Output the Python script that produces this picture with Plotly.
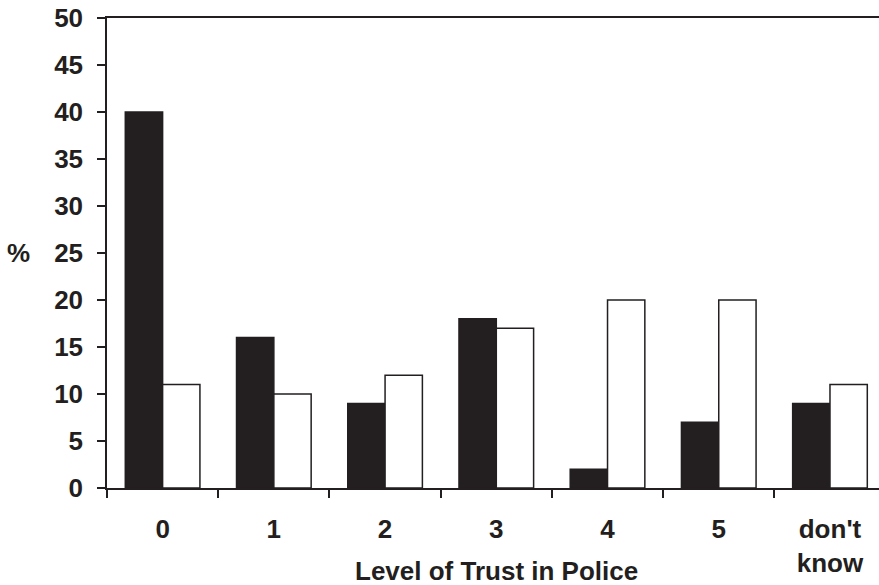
import plotly.graph_objects as go

categories = ["0", "1", "2", "3", "4", "5", "don't<br>know"]
series_black = [40, 16, 9, 18, 2, 7, 9]
series_white = [11, 10, 12, 17, 20, 20, 11]
y_ticks = [0, 5, 10, 15, 20, 25, 30, 35, 40, 45, 50]

INK = "#231f20"
FONT = "Liberation Sans, Arial, sans-serif"
FS = 26

W, H = 879, 585
L, T = 106.5, 18
B = H - T - 470
plot_w = W - L
plot_h = H - T - B
cat_w = 111.3
x_right = -0.5 + plot_w / cat_w

fig = go.Figure()
fig.add_trace(go.Bar(x=categories, y=series_black, name="black",
                     marker=dict(color=INK, line=dict(color=INK, width=1.5))))
fig.add_trace(go.Bar(x=categories, y=series_white, name="white",
                     marker=dict(color="white", line=dict(color=INK, width=1.5))))

fig.update_layout(
    width=W, height=H,
    margin=dict(l=L, r=0, t=T, b=B, pad=0, autoexpand=False),
    paper_bgcolor="white", plot_bgcolor="white",
    barmode="group", bargap=0.329, bargroupgap=0,
    showlegend=False,
    font=dict(family=FONT, size=FS, color=INK),
)
fig.update_xaxes(
    type="category", range=[-0.5, x_right], automargin=False,
    showline=True, linecolor=INK, linewidth=1.5, mirror=True,
    ticks="outside", ticklen=8, tickwidth=1.5, tickcolor=INK,
    tickson="boundaries", showgrid=False, zeroline=False,
    tickfont=dict(family=FONT, size=FS, color=INK, weight="bold"),
    ticklabelstandoff=17,
)
fig.update_yaxes(
    range=[0, 50], tickvals=y_ticks, automargin=False,
    showline=True, linecolor=INK, linewidth=1.5,
    ticks="outside", ticklen=8, tickwidth=1.5, tickcolor=INK,
    showgrid=False, zeroline=False, ticklabeloverflow="allow",
    tickfont=dict(family=FONT, size=FS, color=INK, weight="bold"),
    ticklabelstandoff=9,
)
fig.add_annotation(text="%", xref="paper", yref="paper",
                   x=(18 - L) / plot_w, y=0.5, xanchor="center", yanchor="middle",
                   showarrow=False, font=dict(family=FONT, size=FS, color=INK, weight="bold"))
fig.add_annotation(text="Level of Trust in Police", xref="paper", yref="paper",
                   x=(496 - L) / plot_w, y=(488 - 571) / plot_h,
                   xanchor="center", yanchor="middle",
                   showarrow=False, font=dict(family=FONT, size=FS, color=INK, weight="bold"))

fig.write_html(
    "out.html",
    config={"displayModeBar": False},
    post_script="document.body.style.margin='0px';document.body.style.overflow='hidden';",
)
